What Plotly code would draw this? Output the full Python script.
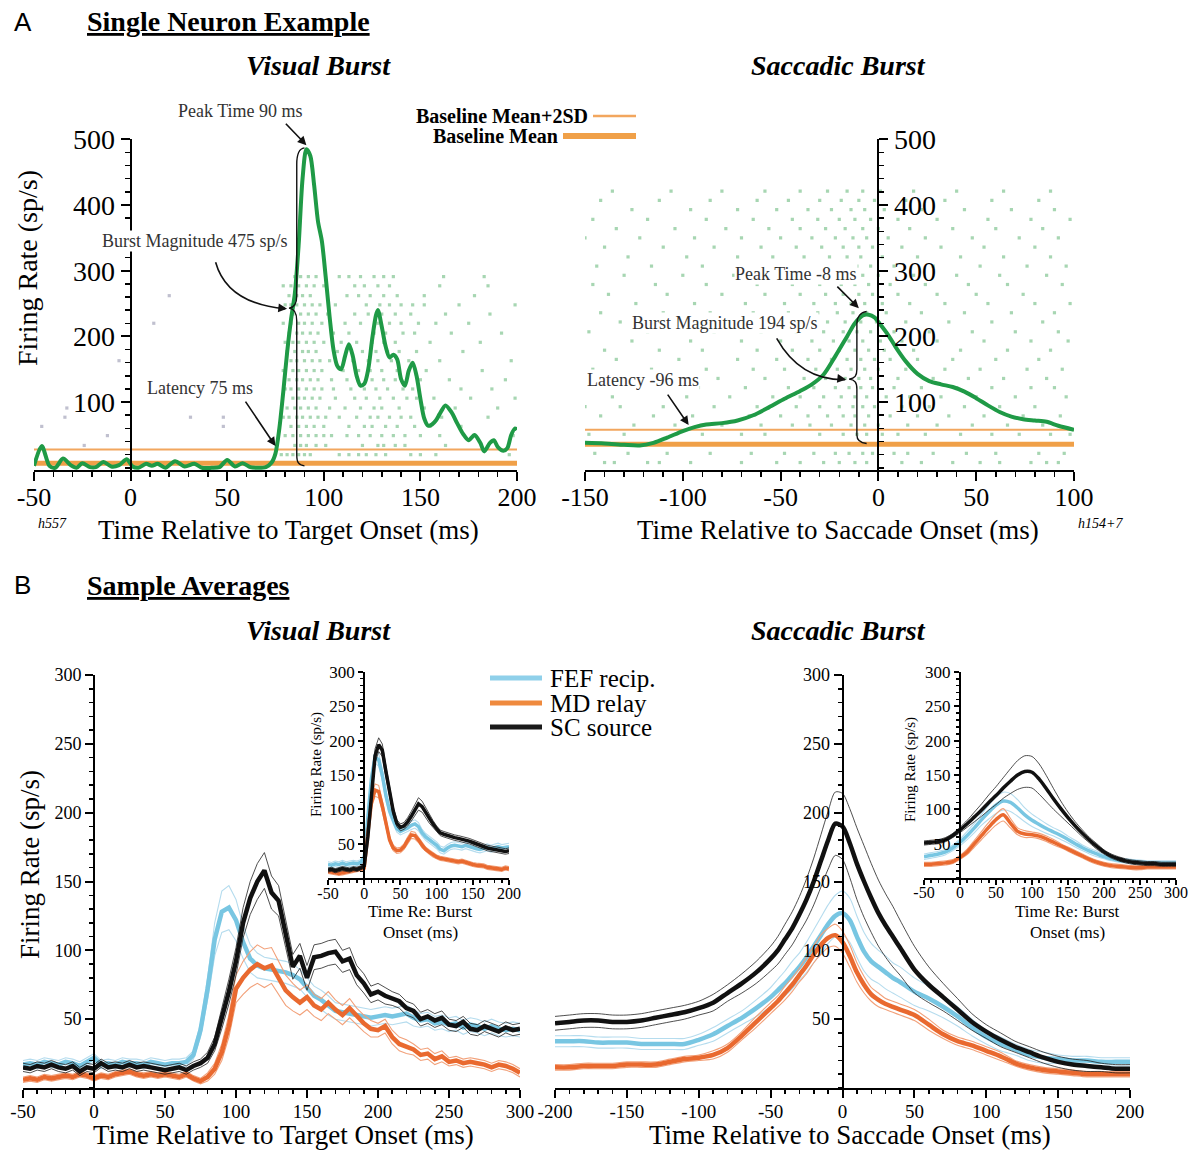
import plotly.graph_objects as go

# reference canvas size (page body margin is removed after plotting so the figure sits at 0,0)
W, H = 1196, 1152
OX, OY = 0, 0
FW, FH = W - OX, H - OY
SERIF = "Liberation Serif"
SANS = "Liberation Sans"

# ================= DATA: Panel A (single neuron) =================
vis_sdf_t = [-50, -46, -42, -39, -35, -31, -28, -25, -21, -18, -14, -10, -6, -2, 1, 4, 8, 11, 14, 18,
             23, 28, 33, 37, 42, 46, 50, 54, 58, 62, 66, 70, 73, 75, 77, 79, 81, 83, 85, 87,
             89, 91, 93, 95, 97, 99, 101, 103, 105, 107, 109, 111, 113, 115, 117, 119, 121, 123, 125, 127,
             128, 130, 132, 134, 136, 138, 140, 142, 144, 146, 148, 150, 152, 154, 156, 158, 160, 163, 166, 169,
             172, 175, 178, 181, 183, 186, 188, 190, 193, 195, 197, 199, 200]
vis_sdf_rate = [3, 33, 3, 0, 14, 4, 0, 7, 1, 1, 9, 2, 4, 13, 2, 0, 6, 3, 6, 0,
                10, 2, 6, 0, 0, 1, 12, 2, 7, 1, 0, 1, 8, 22, 60, 115, 175, 225, 265, 340,
                440, 485, 475, 430, 375, 345, 290, 230, 180, 155, 150, 170, 188, 170, 140, 125, 128, 150, 195, 232,
                240, 215, 185, 168, 172, 165, 135, 125, 148, 160, 140, 105, 75, 64, 66, 72, 82, 95, 85, 68,
                52, 42, 50, 38, 25, 38, 42, 32, 26, 30, 50, 60, 58]
sac_sdf_t = [-150, -140, -130, -122, -115, -108, -100, -94, -88, -80, -72, -64, -56, -48, -40, -34, -28, -22, -16, -12,
             -8, -5, -2, 1, 5, 9, 14, 20, 26, 32, 38, 44, 50, 56, 62, 68, 74, 80, 86, 92, 100]
sac_sdf_rate = [38, 37, 35, 34, 38, 46, 56, 62, 66, 68, 72, 80, 92, 105, 117, 127, 142, 170, 200, 220,
                232, 233, 229, 218, 202, 183, 162, 143, 132, 127, 123, 116, 106, 95, 85, 78, 74, 72, 70, 64, 58]
vis_base_mean, vis_base_2sd = 7, 28
sac_base_mean, sac_base_2sd = 36, 58

vis_raster_y = [20, 34, 49, 63, 77, 91, 106, 120, 134, 148, 163, 177, 191, 205, 220, 234, 248, 262, 277, 291]
vis_raster_spikes = [
    [78, 81, 84, 87, 90, 93, 108, 113, 118, 122, 127, 132, 145, 150, 158, 196],
    [85, 88, 91, 96, 101, 120, 128, 131, 137, 142, 163],
    [80, 84, 88, 92, 96, 100, 104, 112, 118, 124, 130, 136, 142, 150, 160, 178, 198],
    [83, 87, 91, 95, 100, 113, 121, 125, 132, 138, 147, 155, 171],
    [79, 82, 86, 89, 93, 97, 101, 108, 117, 124, 128, 134, 140, 145, 161, 185],
    [81, 85, 88, 92, 96, 103, 111, 119, 126, 130, 139, 152, 168, 190],
    [84, 87, 90, 94, 98, 106, 116, 122, 129, 136, 143, 148, 157, 176, 199],
    [80, 83, 87, 91, 95, 99, 105, 114, 121, 127, 133, 141, 146, 171, 187],
    [82, 86, 89, 93, 97, 104, 112, 125, 131, 137, 150, 165, 194],
    [79, 84, 87, 91, 95, 99, 110, 118, 124, 130, 138, 144, 153, 182],
    [83, 86, 90, 94, 98, 103, 115, 123, 128, 135, 144, 160, 197],
    [81, 85, 89, 92, 96, 107, 120, 127, 133, 139, 148, 172],
    [80, 84, 87, 91, 95, 100, 109, 117, 125, 131, 137, 155, 181],
    [82, 86, 89, 93, 97, 105, 113, 126, 132, 141, 147, 166, 192],
    [79, 83, 87, 90, 94, 99, 111, 119, 128, 134, 140, 149, 158, 175],
    [84, 88, 92, 96, 102, 116, 123, 130, 137, 145, 163, 186],
    [80, 83, 86, 90, 94, 98, 106, 122, 129, 134, 140, 146, 152, 170, 199],
    [82, 86, 89, 93, 112, 118, 124, 131, 138, 152, 178],
    [79, 83, 87, 91, 95, 100, 116, 121, 128, 134, 160, 185],
    [85, 88, 92, 96, 108, 113, 119, 126, 131, 136, 162, 183],
]
vis_pre_spike_t = [-46, -33, -34, -24, -12, -6, 12, 20, 31, 48, 48]
vis_pre_spike_y = [63, 91, 77, 34, 49, 163, 220, 262, 77, 77, 63]

sac_raster_y = [8, 22, 36, 51, 65, 79, 93, 108, 122, 136, 150, 165, 179, 193, 207,
                222, 236, 250, 264, 279, 293, 307, 321, 336, 350, 364, 378, 393, 407, 421]
sac_raster_spikes = [
    [-140, -135, -118, -112, -96, -70, -52, -40, -28, -20, -12, -6, 12, 22, 38, 52, 62, 78, 86, 92],
    [-145, -128, -108, -86, -65, -48, -33, -22, -15, -8, -3, 8, 15, 28, 45, 60, 82, 95],
    [-138, -120, -100, -75, -55, -38, -25, -16, -10, -4, 5, 18, 35, 55, 75, 90],
    [-148, -130, -90, -70, -58, -30, -18, -11, -6, 2, 10, 24, 42, 58, 72, 88, 98],
    [-125, -104, -80, -60, -44, -35, -24, -14, -7, 0, 15, 30, 48, 66, 84],
    [-142, -115, -95, -66, -50, -36, -26, -18, -12, -5, 6, 20, 36, 54, 74, 93],
    [-150, -132, -110, -84, -62, -42, -30, -20, -13, -8, -2, 12, 26, 44, 62, 80],
    [-136, -98, -76, -54, -40, -28, -19, -12, -6, 4, 16, 32, 50, 70, 96],
    [-144, -120, -92, -68, -46, -33, -22, -15, -9, -3, 8, 22, 40, 58, 78, 90],
    [-128, -106, -82, -58, -38, -27, -17, -10, -4, 10, 28, 46, 64, 86],
    [-146, -116, -88, -64, -48, -32, -21, -14, -7, 0, 14, 34, 52, 76, 94],
    [-134, -102, -72, -52, -36, -24, -16, -9, -2, 6, 20, 38, 60, 82],
    [-140, -112, -90, -62, -44, -30, -20, -12, -5, 3, 18, 42, 66, 88],
    [-126, -96, -70, -50, -34, -23, -15, -8, 1, 12, 30, 54, 78, 97],
    [-148, -118, -84, -60, -42, -28, -18, -11, -4, 8, 26, 48, 70, 92],
    [-132, -104, -78, -56, -38, -26, -17, -9, -1, 14, 36, 58, 84],
    [-142, -110, -86, -64, -46, -31, -21, -13, -6, 4, 22, 44, 68, 90],
    [-124, -94, -68, -48, -33, -22, -14, -7, 2, 16, 34, 56, 80, 98],
    [-138, -108, -80, -58, -40, -27, -18, -10, -3, 10, 30, 50, 74],
    [-146, -114, -88, -62, -44, -30, -19, -12, -5, 6, 24, 46, 66, 94],
    [-130, -100, -74, -52, -36, -24, -15, -8, 0, 18, 40, 62, 86],
    [-144, -116, -90, -66, -46, -32, -20, -11, -4, 8, 28, 52, 76, 96],
    [-128, -98, -72, -54, -38, -25, -16, -9, 2, 20, 42, 64, 88],
    [-140, -110, -84, -60, -42, -29, -18, -10, -3, 12, 32, 54, 80],
    [-150, -122, -94, -70, -50, -34, -22, -13, -6, 5, 24, 48, 72, 92],
    [-134, -104, -78, -56, -40, -27, -17, -8, 0, 16, 38, 60, 84],
    [-146, -118, -88, -64, -44, -31, -20, -12, -4, 10, 30, 56, 78, 98],
    [-126, -96, -72, -52, -36, -24, -14, -7, 3, 22, 44, 68, 90],
    [-142, -112, -86, -62, -46, -30, -19, -10, -2, 14, 34, 58, 82],
    [-136, -106, -80, -58, -40, -26, -16, -8, 1, 18, 40, 64, 88],
]

# ================= DATA: Panel B (sample averages) =================
groups = ["FEF recip.", "MD relay", "SC source"]

bvis_t = list(range(-50, 301, 5))
fef_vis = [17, 18, 17, 19, 18, 17, 19, 18, 16, 19,
           22, 17, 18, 17, 19, 18, 18, 17, 19, 18,
           17, 18, 18, 19, 24, 42, 72, 108, 128, 131,
           122, 106, 94, 89, 87, 86, 85, 84, 82, 79,
           73, 67, 64, 60, 56, 55, 54, 53, 52, 51,
           52, 53, 52, 53, 54, 51, 49, 50, 47, 48,
           46, 47, 44, 46, 45, 43, 45, 43, 42, 43, 42]
fef_vis_sem = [3, 3, 3, 3, 3, 3, 3, 3, 3, 3,
               3, 3, 3, 3, 3, 3, 3, 3, 3, 3,
               3, 3, 3, 3, 3, 5, 8, 12, 15, 16,
               15, 12, 10, 9, 8, 8, 8, 8, 8, 7,
               7, 7, 7, 7, 6, 6, 6, 6, 6, 6,
               6, 6, 6, 6, 6, 6, 5, 5, 5, 5,
               5, 5, 5, 5, 5, 5, 5, 5, 5, 5, 5]
sc_vis = [15, 14, 16, 15, 17, 15, 14, 16, 12, 15,
          14, 18, 15, 16, 15, 17, 15, 16, 15, 14,
          13, 14, 15, 13, 16, 18, 22, 32, 50, 70,
          92, 120, 138, 150, 158, 142, 136, 112, 88, 96,
          80, 95, 96, 98, 99, 92, 94, 82, 76, 68,
          70, 67, 65, 63, 58, 56, 50, 52, 49, 51,
          46, 45, 48, 43, 42, 45, 43, 41, 44, 42, 43]
sc_vis_sem = [3, 3, 3, 3, 3, 3, 3, 3, 3, 3,
              3, 3, 3, 3, 3, 3, 3, 3, 3, 3,
              3, 3, 3, 3, 3, 3, 4, 5, 7, 9,
              10, 11, 12, 13, 13, 12, 11, 10, 9, 9,
              9, 9, 9, 9, 9, 8, 8, 7, 7, 6,
              6, 6, 5, 5, 5, 5, 5, 5, 5, 5,
              4, 4, 4, 4, 4, 4, 4, 4, 4, 4, 4]
md_vis = [6, 7, 6, 8, 7, 8, 9, 8, 10, 9,
          7, 9, 8, 10, 11, 12, 10, 9, 10, 9,
          10, 9, 8, 10, 7, 5, 8, 14, 26, 45,
          72, 80, 86, 90, 87, 89, 80, 71, 66, 62,
          66, 60, 57, 62, 57, 53, 58, 52, 47, 43,
          42, 45, 37, 32, 30, 28, 24, 25, 21, 23,
          19, 20, 18, 19, 18, 17, 15, 17, 16, 14, 11]
md_vis_sem = [2, 2, 2, 2, 2, 2, 2, 2, 2, 2,
              2, 2, 2, 2, 2, 2, 2, 2, 2, 2,
              2, 2, 2, 2, 2, 2, 3, 4, 6, 8,
              10, 12, 13, 14, 14, 13, 12, 11, 10, 9,
              9, 8, 8, 8, 7, 7, 7, 6, 6, 6,
              5, 5, 5, 5, 5, 4, 4, 4, 4, 4,
              3, 3, 3, 3, 3, 3, 3, 3, 3, 3, 3]

bsac_t = [-200, -190, -180, -170, -160, -150, -140, -130, -120, -110, -100, -90, -80, -70, -60, -50,
          -45, -40, -35, -30, -25, -20, -15, -10, -5, 0, 5, 10, 15, 20, 25, 30, 35, 40,
          50, 60, 70, 80, 90, 100, 110, 120, 130, 140, 150, 160, 170, 180, 190, 200]
sc_sac = [47, 48, 49, 49, 48, 48, 49, 51, 53, 55, 58, 62, 69, 76, 84, 94,
          100, 108, 116, 126, 137, 150, 165, 180, 192, 190, 178, 163, 150, 138, 127, 118, 110, 102,
          86, 75, 66, 57, 48, 41, 35, 30, 26, 22, 19, 17, 16, 15, 14, 14]
sc_sac_sem = [5, 5, 5, 5, 5, 5, 5, 5, 5, 5, 5, 6, 6, 7, 8, 9,
              10, 11, 12, 13, 15, 17, 19, 21, 23, 24, 25, 26, 26, 25, 24, 23, 22, 20,
              17, 13, 10, 8, 6, 5, 5, 4, 4, 4, 4, 4, 4, 3, 3, 3]
fef_sac = [34, 34, 34, 33, 33, 33, 32, 32, 32, 32, 35, 39, 45, 51, 58, 66,
           71, 76, 82, 88, 95, 103, 111, 119, 125, 127, 122, 110, 99, 92, 88, 84, 80, 77,
           70, 65, 59, 52, 44, 37, 32, 28, 24, 22, 21, 20, 20, 19, 19, 19]
fef_sac_sem = [4, 4, 4, 4, 4, 4, 4, 4, 4, 4, 4, 5, 5, 5, 6, 7,
               8, 9, 10, 10, 11, 12, 13, 14, 15, 16, 16, 15, 14, 13, 12, 12, 11, 11,
               10, 9, 8, 7, 6, 5, 5, 4, 4, 4, 3, 3, 3, 3, 3, 3]
md_sac = [15, 15, 16, 16, 16, 17, 17, 17, 19, 21, 22, 24, 29, 38, 48, 58,
          63, 69, 75, 82, 89, 97, 104, 109, 111, 106, 96, 84, 75, 68, 64, 61, 59, 57,
          53, 46, 39, 34, 31, 27, 23, 18, 15, 13, 12, 11, 10, 10, 10, 10]
md_sac_sem = [2, 2, 2, 2, 2, 2, 2, 2, 2, 2, 2, 3, 3, 3, 4, 4,
              4, 5, 5, 5, 6, 6, 7, 7, 8, 8, 8, 7, 6, 5, 5, 4, 4, 4,
              4, 4, 3, 3, 3, 3, 3, 2, 2, 2, 2, 2, 2, 2, 2, 2]

# insets: time re: burst onset
ivis_t = list(range(-50, 201, 5))
sc_ivis = [12, 13, 11, 12, 14, 13, 12, 14, 13, 15, 18, 60, 125, 178, 194, 186, 155, 125, 98, 80,
           74, 76, 82, 90, 100, 108, 104, 95, 86, 79, 72, 66, 64, 62, 60, 59, 58, 57, 55, 54,
           52, 50, 47, 45, 44, 43, 42, 41, 40, 39, 40]
sc_ivis_sem = [3] * 10 + [3, 5, 8, 10, 10, 9, 8, 7, 6, 5, 5, 5, 6, 7, 8, 9, 8, 7, 6, 5] + [4] * 21
fef_ivis = [20, 19, 21, 20, 22, 20, 21, 22, 21, 23, 30, 95, 145, 176, 172, 150, 120, 98, 84, 72,
            68, 70, 73, 77, 79, 75, 66, 60, 56, 52, 48, 42, 40, 44, 47, 48, 47, 46, 48, 46,
            44, 43, 42, 44, 45, 43, 44, 46, 44, 45, 46]
fef_ivis_sem = [4] * 10 + [4, 6, 8, 9, 9, 8, 7, 6, 5, 5, 5, 5, 5, 6, 6, 6, 5, 5, 5, 5] + [5] * 21
md_ivis = [10, 9, 8, 7, 8, 9, 10, 11, 12, 13, 15, 65, 110, 128, 126, 105, 78, 56, 44, 40,
           41, 46, 55, 63, 62, 56, 48, 42, 38, 34, 31, 29, 28, 27, 26, 25, 24, 25, 23, 22,
           20, 19, 19, 18, 16, 15, 14, 14, 13, 15, 14]
md_ivis_sem = [3] * 10 + [3, 5, 7, 9, 9, 8, 6, 5, 4, 4, 4, 4, 5, 5, 5, 4, 4, 3, 3, 3] + [3] * 21

isac_t = list(range(-50, 301, 10))
sc_isac = [51, 52, 53, 56, 62, 70, 79, 89, 99, 110, 120, 131, 141, 150, 155, 154, 144, 130, 115, 101,
           88, 76, 65, 55, 46, 38, 32, 28, 25, 23, 22, 21, 21, 20, 20, 20]
sc_isac_sem = [3, 3, 3, 3, 3, 4, 5, 7, 9, 11, 13, 15, 18, 21, 23, 23, 22, 19, 15, 11,
               8, 6, 5, 4, 4, 3, 3, 3, 3, 3, 3, 3, 3, 3, 3, 3]
fef_isac = [31, 33, 35, 38, 44, 52, 62, 73, 85, 96, 106, 112, 110, 102, 92, 84, 78, 72, 67, 62,
            56, 50, 44, 39, 35, 31, 28, 26, 25, 24, 23, 22, 22, 22, 22, 22]
fef_isac_sem = [4, 4, 4, 4, 4, 5, 6, 7, 8, 10, 12, 13, 13, 12, 10, 9, 8, 7, 6, 6,
                5, 5, 4, 4, 4, 3, 3, 3, 3, 3, 3, 3, 3, 3, 3, 3]
md_isac = [20, 20, 21, 22, 24, 30, 38, 50, 62, 74, 85, 92, 80, 68, 64, 63, 61, 57, 52, 47,
           42, 37, 32, 27, 23, 20, 18, 17, 16, 15, 15, 16, 16, 16, 16, 16]
md_isac_sem = [3, 3, 3, 3, 3, 3, 4, 5, 6, 7, 8, 9, 7, 5, 5, 4, 4, 4, 4, 3,
               3, 3, 3, 3, 3, 3, 3, 3, 3, 3, 3, 3, 3, 3, 3, 3]

# tick labels
a_ytick = [100, 200, 300, 400, 500]
avis_xtick = [-50, 0, 50, 100, 150, 200]
asac_xtick = [-150, -100, -50, 0, 50, 100]
b_ytick = [50, 100, 150, 200, 250, 300]
bvis_xtick = [-50, 0, 50, 100, 150, 200, 250, 300]
bsac_xtick = [-200, -150, -100, -50, 0, 50, 100, 150, 200]
ivis_xtick = [-50, 0, 50, 100, 150, 200]
isac_xtick = [-50, 0, 50, 100, 150, 200, 250, 300]

# ================= STYLE =================
GREEN = "#1f9a46"
DOT_GREEN = "rgba(95,180,115,0.55)"
DOT_GREY = "rgba(150,150,175,0.6)"
ORANGE_THIN = "#f2a65e"
ORANGE_THICK = "#f0a048"
COL = {"FEF recip.": ("#78c6e2", "#b5dcee"),
       "MD relay": ("#e9692f", "#f2a17a"),
       "SC source": ("#111111", "#222222")}

fig = go.Figure()


def add_line(x, y, ax, color, width, shape="linear"):
    fig.add_trace(go.Scatter(x=x, y=y, mode="lines", xaxis="x" + ax, yaxis="y" + ax,
                             line=dict(color=color, width=width, shape=shape, smoothing=0.8),
                             showlegend=False, hoverinfo="skip"))


def add_raster(rows_y, rows_sp, ax, color):
    xs, ys = [], []
    for yv, sp in zip(rows_y, rows_sp):
        for s in sp:
            xs.append(s)
            ys.append(yv)
    fig.add_trace(go.Scatter(x=xs, y=ys, mode="markers", xaxis="x" + ax, yaxis="y" + ax,
                             marker=dict(symbol="square", size=3.2, color=color, line=dict(width=0)),
                             showlegend=False, hoverinfo="skip"))


# Panel A visual
add_raster(vis_raster_y, vis_raster_spikes, "", DOT_GREEN)
fig.add_trace(go.Scatter(x=vis_pre_spike_t, y=vis_pre_spike_y, mode="markers", xaxis="x", yaxis="y",
                         marker=dict(symbol="square", size=3.2, color=DOT_GREY), showlegend=False,
                         hoverinfo="skip"))
add_line([-50, 200], [vis_base_2sd] * 2, "", ORANGE_THIN, 2)
add_line([-50, 200], [vis_base_mean] * 2, "", ORANGE_THICK, 5)
add_line(vis_sdf_t, vis_sdf_rate, "", GREEN, 4, "spline")

# Panel A saccadic
add_raster(sac_raster_y, sac_raster_spikes, "2", DOT_GREEN)
add_line([-150, 100], [sac_base_2sd] * 2, "2", ORANGE_THIN, 2)
add_line([-150, 100], [sac_base_mean] * 2, "2", ORANGE_THICK, 5)
add_line(sac_sdf_t, sac_sdf_rate, "2", GREEN, 4, "spline")


def add_group(t, mean, sem, name, ax, wthick, shape):
    thick, thin = COL[name]
    up = [m + s for m, s in zip(mean, sem)]
    lo = [m - s for m, s in zip(mean, sem)]
    tw = 0.8 if name == "SC source" else 1.1
    add_line(t, up, ax, thin, tw, shape)
    add_line(t, lo, ax, thin, tw, shape)
    add_line(t, mean, ax, thick, wthick, shape)


for ax, t, data, w, shp in [
    ("3", bvis_t, [(fef_vis, fef_vis_sem), (md_vis, md_vis_sem), (sc_vis, sc_vis_sem)], 4.5, "linear"),
    ("4", bsac_t, [(fef_sac, fef_sac_sem), (md_sac, md_sac_sem), (sc_sac, sc_sac_sem)], 4.5, "spline"),
    ("5", ivis_t, [(fef_ivis, fef_ivis_sem), (md_ivis, md_ivis_sem), (sc_ivis, sc_ivis_sem)], 3.5, "linear"),
    ("6", isac_t, [(fef_isac, fef_isac_sem), (md_isac, md_isac_sem), (sc_isac, sc_isac_sem)], 3.5, "spline"),
]:
    for name, (m, s) in zip(groups, data):
        add_group(t, m, s, name, ax, w, shp)


# ================= AXES =================
def fx(px):
    return (px - OX) / FW


def fy(py):
    return 1 - (py - OY) / FH


def xdom(a, b):
    return [fx(a), fx(b)]


def ydom(top, bottom):
    return [fy(bottom), fy(top)]


def base_axis(fs, tlen, mlen, mdt):
    return dict(showgrid=False, zeroline=False, showline=True, linecolor="black", linewidth=2,
                ticks="outside", tickcolor="black", tickwidth=2, ticklen=tlen,
                tickfont=dict(family=SERIF, size=fs, color="black"),
                minor=dict(ticks="outside", tick0=0, dtick=mdt, ticklen=mlen, tickwidth=1.5, tickcolor="black"),
                tickmode="array", fixedrange=True, automargin=False)


specs = {
    "": dict(xd=(34, 517), xr=(-50, 200), xt=avis_xtick, yd=(139.3, 470.1), yr=(-3.5, 500), yt=a_ytick,
             side="left", fs=28, fsx=26, tl=9, ml=5, xm=10, ym=20, xso=-6),
    "2": dict(xd=(585, 1074), xr=(-150, 100), xt=asac_xtick, yd=(139.3, 470.1), yr=(-3.5, 500), yt=a_ytick,
              side="right", fs=28, fsx=26, tl=9, ml=5, xm=10, ym=20, xso=-6),
    "3": dict(xd=(23, 520), xr=(-50, 300), xt=bvis_xtick, yd=(675, 1088), yr=(0, 300), yt=b_ytick,
              side="left", fs=18, fsx=19, tl=8, ml=4, xm=10, ym=10, xso=-3),
    "4": dict(xd=(555, 1130), xr=(-200, 200), xt=bsac_xtick, yd=(675, 1088), yr=(0, 300), yt=b_ytick,
              side="left", fs=18, fsx=19, tl=8, ml=4, xm=10, ym=10, xso=-3),
    "5": dict(xd=(328, 509), xr=(-50, 200), xt=ivis_xtick, yd=(671.7, 878.3), yr=(0, 300), yt=b_ytick,
              side="left", fs=17, fsx=16, tl=5, ml=3, xm=10, ym=10, xso=-6),
    "6": dict(xd=(924, 1176), xr=(-50, 300), xt=isac_xtick, yd=(672, 878), yr=(0, 300), yt=b_ytick,
              side="left", fs=17, fsx=16, tl=5, ml=3, xm=10, ym=10, xso=-6),
}

layout_axes = {}
for k, s in specs.items():
    xa = base_axis(s["fsx"], s["tl"], s["ml"], s["xm"])
    xa.update(domain=xdom(*s["xd"]), range=list(s["xr"]), tickvals=s["xt"],
              ticktext=[str(v) for v in s["xt"]], anchor="y" + k, ticklabelstandoff=s["xso"])
    ya = base_axis(s["fs"], s["tl"], s["ml"], s["ym"])
    x0, x1 = s["xd"]
    r0, r1 = s["xr"]
    pos = fx(x0 + (0 - r0) / (r1 - r0) * (x1 - x0))
    ya.update(domain=ydom(*s["yd"]), range=list(s["yr"]), tickvals=s["yt"],
              ticktext=[str(v) for v in s["yt"]], anchor="free", position=pos, side=s["side"])
    layout_axes["xaxis" + k] = xa
    layout_axes["yaxis" + k] = ya

fig.update_layout(**layout_axes)


# ================= TEXT =================
def txt(x, y, s, size, color="black", xanchor="center", yanchor="middle", family=SERIF, angle=0, bg=None):
    d = dict(x=fx(x), y=fy(y), xref="paper", yref="paper", text=s, showarrow=False,
             font=dict(family=family, size=size, color=color), xanchor=xanchor, yanchor=yanchor,
             textangle=angle)
    if bg:
        d["bgcolor"] = bg
        d["borderpad"] = 0
    return d


GREYTXT = "#333333"
ann = [
    txt(12, 22, "A", 26, family=SANS, xanchor="left"),
    txt(85, 22, "<b><u>Single Neuron Example</u></b>", 28, xanchor="left"),
    txt(318, 66, "<b><i>Visual Burst</i></b>", 28),
    txt(838, 66, "<b><i>Saccadic Burst</i></b>", 28),
    txt(590, 116, "<b>Baseline Mean+2SD</b>", 20, xanchor="right"),
    txt(560, 136, "<b>Baseline Mean</b>", 20, xanchor="right"),
    txt(28, 268, "Firing Rate (sp/s)", 28, angle=-90),
    txt(288, 530, "Time Relative to Target Onset (ms)", 27),
    txt(838, 530, "Time Relative to Saccade Onset (ms)", 27),
    txt(52, 523, "<i>h557</i>", 14),
    txt(1100, 523, "<i>h154+7</i>", 14),
    txt(240, 111, "Peak Time 90 ms", 18, GREYTXT),
    txt(195, 241, "Burst Magnitude 475 sp/s", 18, GREYTXT, bg="white"),
    txt(200, 388, "Latency 75 ms", 18, GREYTXT),
    txt(796, 274, "Peak Time -8 ms", 18, GREYTXT, bg="white"),
    txt(725, 323, "Burst Magnitude 194 sp/s", 18, GREYTXT, bg="white"),
    txt(643, 380, "Latency -96 ms", 18, GREYTXT, bg="white"),
    txt(12, 585, "B", 26, family=SANS, xanchor="left"),
    txt(85, 585, "<b><u>Sample Averages</u></b>", 28, xanchor="left"),
    txt(318, 630, "<b><i>Visual Burst</i></b>", 28),
    txt(838, 630, "<b><i>Saccadic Burst</i></b>", 28),
    txt(30, 865, "Firing Rate (sp/s)", 27, angle=-90),
    txt(283, 1135, "Time Relative to Target Onset (ms)", 27),
    txt(850, 1135, "Time Relative to Saccade Onset (ms)", 27),
    txt(316, 765, "Firing Rate (sp/s)", 15, angle=-90),
    txt(910, 770, "Firing Rate (sp/s)", 15, angle=-90),
    txt(420, 911, "Time Re: Burst", 17),
    txt(420, 932, "Onset (ms)", 17),
    txt(1067, 911, "Time Re: Burst", 17),
    txt(1067, 932, "Onset (ms)", 17),
    txt(548, 678, "FEF recip.", 25, xanchor="left"),
    txt(548, 703, "MD relay", 25, xanchor="left"),
    txt(548, 727, "SC source", 25, xanchor="left"),
]


def arrow(xref, yref, x, y, ax, ay):
    return dict(x=x, y=y, xref=xref, yref=yref, ax=ax, ay=ay, text="", showarrow=True,
                arrowhead=2, arrowsize=1.1, arrowwidth=1.6, arrowcolor="#111")


ann += [
    arrow("x", "y", 91, 491, -22, -23),
    arrow("x", "y", 75, 33, -31, -46),
    arrow("x", "y", 81, 242, -9, -1),
    arrow("x2", "y2", -10, 243, -23, -23),
    arrow("x2", "y2", -97, 65, -22, -32),
    arrow("x2", "y2", -16.5, 134.5, -9, -1),
]
fig.update_layout(annotations=ann)

# ================= SHAPES (braces, curved arrows, legend keys) =================
shapes = [
    dict(type="path", xref="x", yref="y",
         path="M 90,487 C 87,486 86,478 86,462 L 86,262 C 86,250 85,244 82,243 "
              "C 85,242 86,236 86,224 L 86,20 C 86,8 87,4 90,3",
         line=dict(color="#111", width=1.4)),
    dict(type="path", xref="x", yref="y", path="M 44,313 Q 50,250 80,242",
         line=dict(color="#111", width=1.6)),
    dict(type="path", xref="x2", yref="y2",
         path="M -6,238 C -9,237 -11,230 -11,220 L -11,150 C -11,140 -12,136 -15,135 "
              "C -12,134 -11,130 -11,120 L -11,50 C -11,42 -9,38 -6,37",
         line=dict(color="#111", width=1.4)),
    dict(type="path", xref="x2", yref="y2", path="M -52,197 Q -40,133 -17,134",
         line=dict(color="#111", width=1.6)),
]


def pline(x0, x1, y, color, w):
    return dict(type="line", xref="paper", yref="paper", x0=fx(x0), x1=fx(x1), y0=fy(y), y1=fy(y),
                line=dict(color=color, width=w))


shapes += [
    pline(593, 636, 116, ORANGE_THIN, 2.5),
    pline(563, 636, 136, ORANGE_THICK, 6),
    pline(490, 542, 678, "#8fd0ea", 5),
    pline(490, 542, 703, "#ef8a3e", 5),
    pline(490, 542, 727, "#1a1a1a", 5),
]
fig.update_layout(shapes=shapes)

fig.update_layout(template="none", width=FW, height=FH, autosize=False,
                  margin=dict(l=0, r=0, t=0, b=0, pad=0),
                  paper_bgcolor="white", plot_bgcolor="rgba(0,0,0,0)", showlegend=False)

fig.write_html("out.html", config={"responsive": False, "displayModeBar": False, "staticPlot": True},
               post_script="document.body.style.margin='0px';document.body.style.overflow='hidden';")
